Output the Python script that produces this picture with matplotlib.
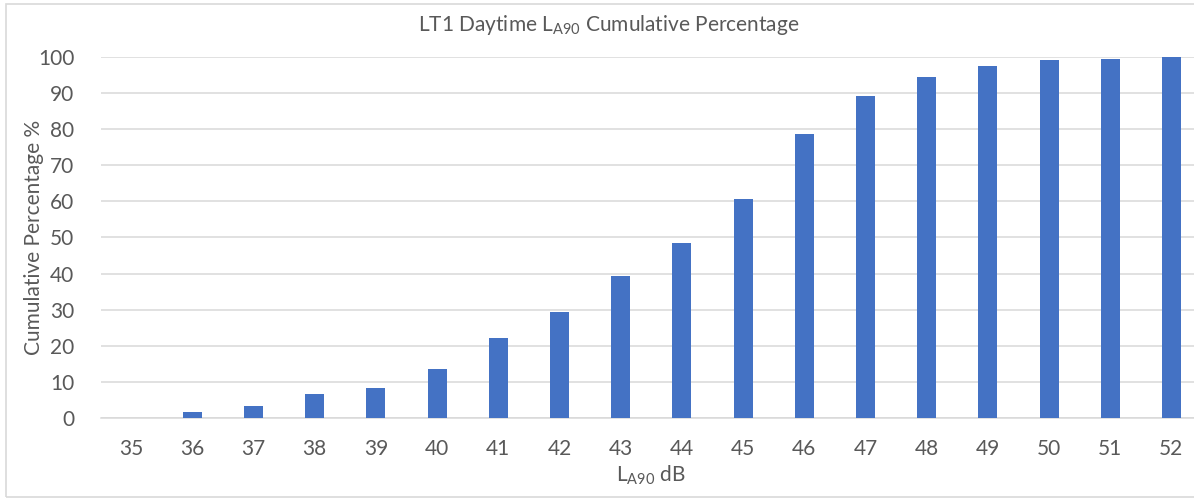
import matplotlib.pyplot as plt
from matplotlib.patches import Rectangle

# cumulative percentage of daytime LA90 readings at or below each level
levels = [35, 36, 37, 38, 39, 40, 41, 42, 43, 44, 45, 46, 47, 48, 49, 50, 51, 52]
cum_pct = [0, 1.6, 3.3, 6.7, 8.4, 13.6, 22.1, 29.4, 39.4, 48.6,
           60.7, 78.6, 89.3, 94.5, 97.4, 99.2, 99.4, 100]
y_ticks = list(range(0, 101, 10))

plt.rcParams['font.family'] = ['Lato', 'DejaVu Sans']
text_col = '#595959'
grid_col = '#d9d9d9'

fig = plt.figure(figsize=(11.94, 4.99), dpi=100)
ax = fig.add_axes([0.0842, 0.1623, 0.9225, 0.7235])

x = range(len(levels))
ax.bar(x, cum_pct, width=0.31, color='#4472C4', zorder=3)

ax.set_xlim(-0.5, len(levels) - 0.5)
ax.set_ylim(0, 100)
ax.set_yticks(y_ticks)
ax.set_xticks(list(x))
ax.set_xticklabels([str(v) for v in levels])

ax.yaxis.grid(True, color=grid_col, linewidth=1.1, zorder=0)
for s in ['top', 'right', 'left']:
    ax.spines[s].set_visible(False)
ax.spines['bottom'].set_color(grid_col)
ax.spines['bottom'].set_linewidth(1.1)
ax.tick_params(axis='both', length=0, labelsize=15, labelcolor=text_col)
ax.tick_params(axis='y', pad=19)
ax.tick_params(axis='x', pad=15)

ax.set_ylabel('Cumulative Percentage %', fontsize=15, color=text_col)
ax.yaxis.set_label_coords(-0.051, 0.5)
ax.set_xlabel('L$_{\\mathregular{A90}}$ dB', fontsize=15, color=text_col)
ax.xaxis.set_label_coords(0.5, -0.125)

fig.text(609 / 1194, 1 - 25 / 499, 'LT1 Daytime L$_{\\mathregular{A90}}$ Cumulative Percentage',
         ha='center', va='center', fontsize=15, color=text_col)

# chart frame
fig.patches.append(Rectangle((6 / 1194, 2 / 499), 1.1, 493 / 499,
                             transform=fig.transFigure, fill=False,
                             edgecolor=grid_col, linewidth=1.2))

fig.savefig('out.png', dpi=100, facecolor='white')
